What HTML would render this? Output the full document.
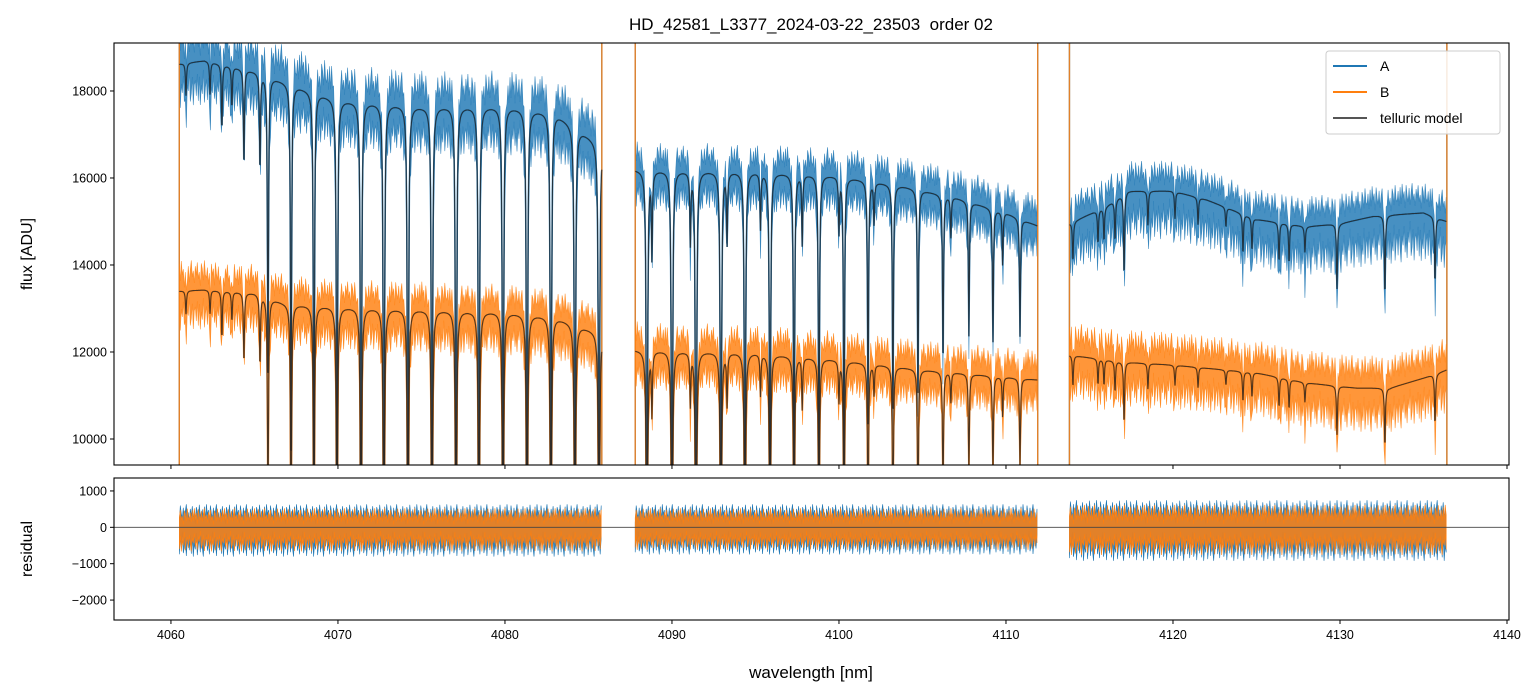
<!DOCTYPE html>
<html><head><meta charset="utf-8">
<style>
html,body{margin:0;padding:0;background:#fff;width:1540px;height:696px;overflow:hidden;}
svg{display:block;font-family:"Liberation Sans","DejaVu Sans",sans-serif;}
</style></head>
<body>
<svg id="fig" width="1540" height="696" viewBox="0 0 1540 696">
<defs>
<clipPath id="clipTop"><rect x="114" y="43" width="1395" height="422"/></clipPath>
<clipPath id="clipBot"><rect x="114" y="478" width="1395" height="142"/></clipPath>
</defs>
<text x="811" y="30" text-anchor="middle" font-size="17" fill="#000" style="white-space:pre">HD_42581_L3377_2024-03-22_23503&#160; order 02</text>
<g id="topPlot" clip-path="url(#clipTop)"></g>
<g id="botPlot" clip-path="url(#clipBot)"></g>
<g id="axes"></g>
<text transform="translate(32,254) rotate(-90)" text-anchor="middle" font-size="16">flux [ADU]</text>
<text transform="translate(32,549) rotate(-90)" text-anchor="middle" font-size="16">residual</text>
<text x="811" y="678" text-anchor="middle" font-size="17">wavelength [nm]</text>
<g>
<rect x="1326" y="51" width="174" height="83" rx="3" fill="#fff" fill-opacity="0.85" stroke="#ccc"/>
<line x1="1333" y1="66" x2="1367" y2="66" stroke="#1f77b4" stroke-width="2"/>
<text x="1380" y="71" font-size="14">A</text>
<line x1="1333" y1="92" x2="1367" y2="92" stroke="#ff7f0e" stroke-width="2"/>
<text x="1380" y="97" font-size="14">B</text>
<line x1="1333" y1="118" x2="1367" y2="118" stroke="#555" stroke-width="2"/>
<text x="1380" y="123" font-size="14">telluric model</text>
</g>
</svg>
<script>
// ---- data ----
const segments = [[4060.5,4085.8],[4087.8,4111.9],[4113.8,4136.4]];
const lineCenters = [4060.90,4062.34,4063.05,4063.65,4064.37,4065.33,4065.81,4067.19,4068.56,4069.94,4071.38,4072.75,4074.19,4075.63,4077.07,4078.44,4079.88,4081.32,4082.75,4084.19,4085.63,
 4088.50,4090.00,4091.44,4092.93,4094.37,4095.87,4097.31,4098.80,4100.30,4101.74,4103.23,4104.73,4106.23,4107.78,4109.22,4110.84,
 4088.80,4091.10,4093.30,4095.30,4097.80,4100.00,4102.10,4106.70,4109.80,
 4114.01,4115.51,4115.87,4116.53,4117.07,4118.50,4120.12,4121.50,4123.17,4124.19,4124.73,4126.35,4126.95,4127.90,4129.82,4132.69,4135.69];
const lineDepths = [0.04,0.04,0.08,0.05,0.12,0.12,0.4,0.5,0.6,0.7,0.8,0.8,0.8,0.8,0.8,0.8,0.8,0.8,0.8,0.8,0.8,
 0.8,0.8,0.8,0.75,0.7,0.65,0.55,0.5,0.45,0.35,0.35,0.32,0.25,0.2,0.2,0.18,
 0.12,0.1,0.1,0.08,0.1,0.08,0.06,0.06,0.08,
 0.06,0.05,0.05,0.06,0.12,0.05,0.04,0.04,0.03,0.06,0.05,0.06,0.06,0.04,0.1,0.12,0.1];
const contA_wl = [4060.5,4062,4065,4068,4070,4075,4080,4083,4085.8, 4087.8,4095,4100,4104,4107,4110,4111.9, 4113.8,4116,4117.3,4120,4122,4125,4128,4130,4132,4135,4136.4];
const contA_val = [18620,18700,18450,18050,17800,17650,17650,17500,16750, 16200,16150,16050,15800,15550,15200,14900, 14950,15350,15700,15700,15500,15050,14880,14950,15120,15200,15000];
const contB_wl = [4060.5,4062,4065,4067,4070,4080,4083,4085.8, 4087.8,4095,4100,4105,4111.9, 4113.8,4117,4120,4125,4128,4131,4133,4135,4136.4];
const contB_val = [13400,13430,13350,13100,13035,12920,12800,12420, 12050,11980,11820,11590,11360, 11930,11770,11700,11520,11290,11170,11170,11400,11590];
const noiseUpA = [900,700,700];
const noiseLowA = [1000,800,1100];
const noiseUpB = [700,700,750];
const noiseLowB = [900,800,1000];
const residUp = [550,550,650];
const residLow = [700,650,800];
const texture = [0.9,0.35,1.0,0.55,0.75,0.2,0.95,0.6,0.4,0.85,0.3,0.7,1.0,0.45,0.65,0.25,0.8,0.5,0.92,0.38,0.6,0.15,0.88,0.7,0.33,0.98,0.52,0.42,0.78,0.28];
const xTicks = [4060,4070,4080,4090,4100,4110,4120,4130,4140];
const yTicksTop = [10000,12000,14000,16000,18000];
const yTicksBot = [-2000,-1000,0,1000];

// ---- axes ----
const X0=114,X1=1509, xmin=4056.59, xmax=4140.12;
const T0=43,T1=465, tmin=9402, tmax=19103;
const B0=478,B1=620, bmin=-2548, bmax=1356;
const sx = w => X0 + (w-xmin)/(xmax-xmin)*(X1-X0);
const sy = v => T1 - (v-tmin)/(tmax-tmin)*(T1-T0);
const sr = v => B1 - (v-bmin)/(bmax-bmin)*(B1-B0);
const NS='http://www.w3.org/2000/svg';
function mk(tag, attrs, parent){const e=document.createElementNS(NS,tag);for(const k in attrs)e.setAttribute(k,attrs[k]);parent.appendChild(e);return e;}
function interp(ws,vs,w){if(w<=ws[0])return vs[0];for(let i=1;i<ws.length;i++){if(w<=ws[i]){const t=(w-ws[i-1])/(ws[i]-ws[i-1]);return vs[i-1]+t*(vs[i]-vs[i-1]);}}return vs[vs.length-1];}
function absorb(w){let s=0;for(let i=0;i<lineCenters.length;i++){const d=(w-lineCenters[i])/0.035;s+=lineDepths[i]/(1+d*d);}return Math.max(0.05,1-s);}

const topG=document.getElementById('topPlot'), botG=document.getElementById('botPlot'), axesG=document.getElementById('axes');
const models=[];

function drawStar(cw,cv,up,low,color,name){
  segments.forEach((sg,si)=>{
    const upper=[],lower=[],model=[];
    let k=0;
    for(let w=sg[0]; w<=sg[1]; w+=0.02,k++){
      const c=interp(cw,cv,w), m=c*absorb(w);
      model.push([sx(w),sy(m)]);
      if(k%3===0){
        const j=k/3;
        upper.push([sx(w),sy(m+up[si]*texture[j%texture.length])]);
        lower.push([sx(w),sy(m-low[si]*texture[(j+11)%texture.length])]);
      }
    }
    const pts=upper.concat(lower.reverse()).map(p=>p[0].toFixed(1)+','+p[1].toFixed(1)).join(' ');
    const band=mk('polygon',{points:pts,fill:color,'fill-opacity':0.82,stroke:color,'stroke-width':0.6,'stroke-opacity':0.8},topG);
    
    
    const obs=mk('polyline',{points:model.map(p=>p[0].toFixed(1)+','+p[1].toFixed(1)).join(' '),fill:'none',stroke:color,'stroke-width':1.6,'stroke-opacity':0.85},topG);
    
    
    [sg[0],sg[1]].forEach(w=>{
      const e=mk('line',{x1:sx(w),x2:sx(w),y1:T0,y2:T1,stroke:color,'stroke-width':1.4,'stroke-opacity':0.85},topG);
      
      
    });
    models.push({pts:model,si:si,name:name});
  });
}
drawStar(contA_wl,contA_val,noiseUpA,noiseLowA,'#1f77b4','a');
drawStar(contB_wl,contB_val,noiseUpB,noiseLowB,'#ff7f0e','b');
models.forEach(m=>{
  const l=mk('polyline',{points:m.pts.map(p=>p[0].toFixed(1)+','+p[1].toFixed(1)).join(' '),fill:'none',stroke:'#222','stroke-width':1.1,'stroke-opacity':0.8},topG);
  
  
});

// residuals
[['#1f77b4',1.15,5],['#ff7f0e',0.95,17]].forEach(([color,scale,off],ci)=>{
  segments.forEach((sg,si)=>{
    const upper=[],lower=[];let k=0;
    for(let w=sg[0]; w<=sg[1]; w+=0.06,k++){
      upper.push([sx(w),sr(residUp[si]*scale*texture[(k+off)%texture.length])]);
      lower.push([sx(w),sr(-residLow[si]*scale*texture[(k+off+13)%texture.length])]);
    }
    const pts=upper.concat(lower.reverse()).map(p=>p[0].toFixed(1)+','+p[1].toFixed(1)).join(' ');
    const r=mk('polygon',{points:pts,fill:color,'fill-opacity':0.85,stroke:color,'stroke-width':0.6},botG);
    
    
  });
});
const zl=mk('line',{x1:X0,x2:X1,y1:sr(0),y2:sr(0),stroke:'#444','stroke-width':0.8},botG);



// frames & ticks
[[T0,T1],[B0,B1]].forEach(([a,b],pi)=>{
  const f=mk('rect',{x:X0,y:a,width:X1-X0,height:b-a,fill:'none',stroke:'#000','stroke-width':1.1},axesG);
  
  
  xTicks.forEach(t=>{
    const tk=mk('line',{x1:sx(t),x2:sx(t),y1:b,y2:b+4,stroke:'#000','stroke-width':1},axesG);
    
    
    if(pi===1){
      const tl=mk('text',{x:sx(t),y:b+19,'text-anchor':'middle','font-size':12.5},axesG);
      tl.textContent=t;
      
      
    }
  });
});
yTicksTop.forEach(t=>{
  const tk=mk('line',{x1:X0-4,x2:X0,y1:sy(t),y2:sy(t),stroke:'#000'},axesG);
  
  
  const tl=mk('text',{x:X0-7,y:sy(t)+4.5,'text-anchor':'end','font-size':12.5},axesG);
  tl.textContent=t;
  
  
});
yTicksBot.forEach(t=>{
  const tk=mk('line',{x1:X0-4,x2:X0,y1:sr(t),y2:sr(t),stroke:'#000'},axesG);
  
  
  const tl=mk('text',{x:X0-7,y:sr(t)+4.5,'text-anchor':'end','font-size':12.5},axesG);
  tl.textContent=(t<0?'\u2212'+(-t):t);
  
  
});
</script>
</body></html>
